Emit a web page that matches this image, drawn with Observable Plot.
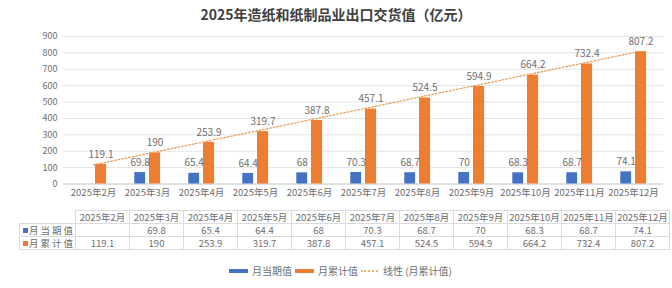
<!DOCTYPE html>
<html><head><meta charset="utf-8">
<script src="https://cdn.jsdelivr.net/npm/d3@7"></script>
<script src="https://cdn.jsdelivr.net/npm/@observablehq/plot@0.6"></script>
<style>
body{margin:0;background:#fff;font-family:"Noto Sans CJK SC","Noto Sans",sans-serif;}
#wrap{position:relative;width:672px;height:288px;overflow:hidden;background:#fff}
#title{height:28px;line-height:28px;text-align:center;font-size:14px;font-weight:bold;color:#404040;width:672px}
#chart svg{display:block}
#tbl{position:absolute;top:210px;border-collapse:collapse;table-layout:fixed;font-size:9.5px;color:#6e6e6e}
#tbl td{border:1px solid #dcdcdc;height:12px;padding:0;text-align:center;white-space:nowrap;line-height:12px}
#tbl td.lab{text-align:left;padding-left:3px;letter-spacing:2px}
.sq{display:inline-block;width:5px;height:5px;margin-right:1px;vertical-align:1px}
#legend{position:absolute;top:263px;left:229px;display:flex;align-items:center;font-size:10px;color:#6e6e6e;white-space:nowrap}
.sw{display:inline-block;width:19px;height:4px;margin-right:4px}
.dl{display:inline-block;width:17px;height:0;border-top:2px dotted #F0B27A;margin-right:5px}
</style></head>
<body><div id="wrap">
<div id="title">2025年造纸和纸制品业出口交货值（亿元）</div>
<div id="chart"></div>
</div>
<script>
const months = ["2025年2月","2025年3月","2025年4月","2025年5月","2025年6月","2025年7月","2025年8月","2025年9月","2025年10月","2025年11月","2025年12月"];
const monthlyValues = [null,69.8,65.4,64.4,68,70.3,68.7,70,68.3,68.7,74.1];
const cumulativeValues = [119.1,190,253.9,319.7,387.8,457.1,524.5,594.9,664.2,732.4,807.2];
const yTicks = [0,100,200,300,400,500,600,700,800,900];
const seriesNames = ["月当期值","月累计值","线性 (月累计值)"];
const seriesColors = ["#4472C4","#ED7D31","#ED7D31"];

const monthly = months.map((m,i)=>({month:m,value:monthlyValues[i]})).filter(d=>d.value!=null);
const cumulative = months.map((m,i)=>({month:m,value:cumulativeValues[i]}));
// linear trendline (least squares) of the cumulative series, as in the source chart
const idx = d3.range(cumulativeValues.length);
const mx = d3.mean(idx), my = d3.mean(cumulativeValues);
const slope = d3.sum(idx,(x,i)=>(x-mx)*(cumulativeValues[i]-my))/d3.sum(idx,x=>(x-mx)**2);
const intercept = my - slope*mx;
const trend = months.map((m,i)=>({month:m,value:intercept+slope*i}));

const font = '"Noto Sans CJK SC","Noto Sans",sans-serif';
const chart = Plot.plot({
  width:672, height:176, marginTop:8, marginBottom:20.5, marginLeft:63, marginRight:9,
  style:{fontFamily:font, fontSize:"9px", color:"#6e6e6e", background:"transparent"},
  x:{domain:months, padding:0, label:null},
  y:{domain:[0,900], label:null},
  marks:[
    Plot.gridY(yTicks,{stroke:"#e4e4e4", strokeOpacity:1}),
    Plot.ruleY([0],{stroke:"#cfcfcf"}),
    Plot.axisY(yTicks,{tickSize:0, tickPadding:6, label:null, fill:"#6e6e6e", fontSize:9}),
    Plot.axisX({tickSize:0, tickPadding:5, label:null, fill:"#6e6e6e", fontSize:9.5}),
    Plot.barY(monthly,{x:"month", y:"value", fill:seriesColors[0], insetLeft:14.3, insetRight:28.9}),
    Plot.barY(cumulative,{x:"month", y:"value", fill:seriesColors[1], insetLeft:29, insetRight:13.9}),
    Plot.line(trend,{x:"month", y:"value", stroke:"#E8A060", strokeWidth:1.3, strokeDasharray:"1.6 2"}),
    Plot.text(monthly,{x:"month", y:"value", text:d=>String(d.value), dx:-7.3, dy:-10, fontSize:10, fill:"#6e6e6e"}),
    Plot.text(cumulative,{x:"month", y:"value", text:d=>String(d.value), dx:7.5, dy:-10, fontSize:10, fill:"#6e6e6e"})
  ]
});
document.getElementById("chart").appendChild(chart);

// data table aligned to the x scale
const xs = chart.scale("x");
const step = xs.bandwidth;
const x0 = xs.apply(months[0]);
const firstW = 47;
const tbl = document.createElement("table");
tbl.id = "tbl";
tbl.style.left = (x0 - firstW) + "px";
let html = `<colgroup><col style="width:${firstW}px">` + months.map(()=>`<col style="width:${step}px">`).join("") + `</colgroup>`;
html += `<tr><td style="border-top:none;border-left:none"></td>` + months.map(m=>`<td>${m}</td>`).join("") + `</tr>`;
html += `<tr><td class="lab"><span class="sq" style="background:${seriesColors[0]}"></span>${seriesNames[0]}</td>` + monthlyValues.map(v=>`<td>${v==null?"":v}</td>`).join("") + `</tr>`;
html += `<tr><td class="lab"><span class="sq" style="background:${seriesColors[1]}"></span>${seriesNames[1]}</td>` + cumulativeValues.map(v=>`<td>${v}</td>`).join("") + `</tr>`;
tbl.innerHTML = html;
document.getElementById("wrap").appendChild(tbl);

// legend
const lg = document.createElement("div");
lg.id = "legend";
lg.innerHTML = `<span class="sw" style="background:${seriesColors[0]}"></span><span style="margin-right:3px">${seriesNames[0]}</span>` +
  `<span class="sw" style="background:${seriesColors[1]}"></span><span style="margin-right:3px">${seriesNames[1]}</span>` +
  `<span class="dl"></span><span>${seriesNames[2]}</span>`;
document.getElementById("wrap").appendChild(lg);
</script>
</body></html>
